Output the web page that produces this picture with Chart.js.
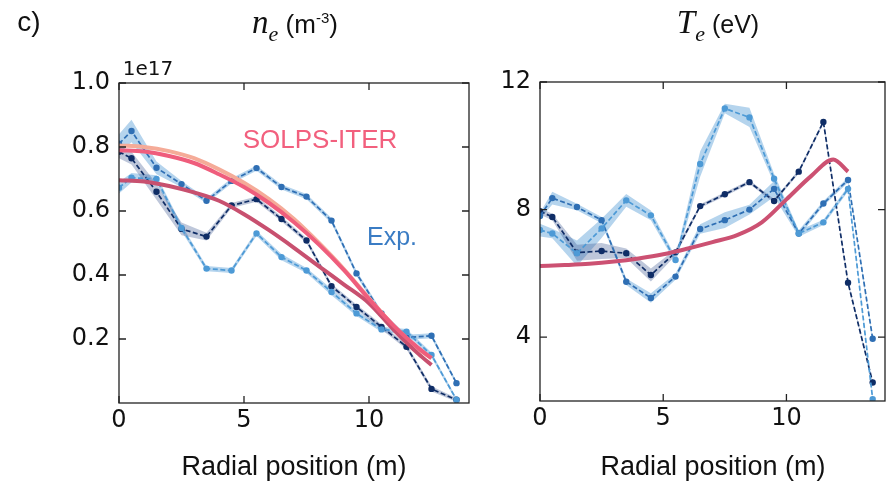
<!DOCTYPE html>
<html>
<head>
<meta charset="utf-8">
<script src="https://cdn.jsdelivr.net/npm/chart.js@4.4.0/dist/chart.umd.min.js"></script>
<style>
  html, body { margin: 0; padding: 0; }
  body { background: #fff; width: 889px; height: 483px; overflow: hidden; position: relative; font-family: 'Liberation Sans', Arial, sans-serif; color: #111; }
  .caja { position: absolute; top: 0; height: 483px; overflow: hidden; }
  .caja canvas { display: block; }
  .txt { position: absolute; white-space: nowrap; line-height: 1; transform: translateX(-50%); }
  .it { font-family: 'Liberation Serif', serif; font-style: italic; font-size: 33px; }
  .sub { font-family: 'Liberation Serif', serif; font-style: italic; font-size: 22px; position: relative; top: 8px; }
  .sup { font-size: 15px; position: relative; top: -10px; }
</style>
</head>
<body>
<div class="caja" style="left:0;width:480px"><canvas id="graficaNe"></canvas></div>
<div class="caja" style="left:480px;width:409px"><canvas id="graficaTe"></canvas></div>

<div class="txt" style="left:29px;top:8px;font-size:28px">c)</div>
<div class="txt" style="left:295px;top:6px;font-size:26px"><span class="it">n</span><span class="sub">e</span> (m<span class="sup">-3</span>)</div>
<div class="txt" style="left:718px;top:6px;font-size:25px"><span class="it">T</span><span class="sub">e</span> (eV)</div>
<div class="txt" style="left:148px;top:58px;font-size:20px;font-family:'DejaVu Sans'">1e17</div>
<div class="txt" style="left:320px;top:126px;font-size:26px;color:#f2607e">SOLPS-ITER</div>
<div class="txt" style="left:392px;top:224px;font-size:25px;color:#3a7cc4">Exp.</div>
<div class="txt" style="left:294px;bottom:3px;font-size:27px">Radial position (m)</div>
<div class="txt" style="left:713px;bottom:3px;font-size:27px">Radial position (m)</div>

<script>
// posiciones radiales de las medidas
const posExp = [0, 0.5, 1.5, 2.5, 3.5, 4.5, 5.5, 6.5, 7.5, 8.5, 9.5, 10.5, 11.5, 12.5, 13.5];

// densidad (x1e17 m^-3)
const neOscuro = [0.785, 0.765, 0.66, 0.544, 0.52, 0.617, 0.637, 0.575, 0.508, 0.365, 0.30, 0.238, 0.176, 0.044, 0.01];
const neMedio  = [0.81, 0.85, 0.735, 0.684, 0.632, 0.694, 0.734, 0.675, 0.645, 0.57, 0.405, 0.28, 0.205, 0.21, 0.062];
const neClaro  = [0.673, 0.704, 0.70, 0.547, 0.42, 0.414, 0.53, 0.456, 0.414, 0.347, 0.28, 0.23, 0.223, 0.15, 0.01];
const neBandaOscuro = [0.02, 0.02, 0.025, 0.02, 0.012, 0.008, 0.008, 0.008, 0.008, 0.008, 0.008, 0.008, 0.008, 0.008, 0.006];
const neBandaMedio  = [0.03, 0.035, 0.02, 0.01, 0.008, 0.008, 0.008, 0.008, 0.008, 0.008, 0.008, 0.008, 0.008, 0.008, 0.006];
const neBandaClaro  = [0.018, 0.015, 0.012, 0.01, 0.008, 0.008, 0.008, 0.01, 0.008, 0.01, 0.008, 0.008, 0.008, 0.008, 0.006];

// temperatura (eV)
const teOscuro = [7.95, 7.77, 6.65, 6.70, 6.63, 5.95, 6.66, 8.11, 8.48, 8.86, 8.27, 9.19, 10.75, 5.71, 2.58];
const teMedio  = [7.80, 8.36, 8.08, 7.67, 5.74, 5.23, 5.90, 7.39, 7.67, 8.00, 8.65, 7.25, 8.19, 8.93, 3.95];
const teClaro  = [7.36, 7.25, 6.63, 7.41, 8.29, 7.82, 6.42, 9.43, 11.17, 10.89, 8.97, 7.25, 7.60, 8.65, 2.06];
const teBandaOscuro = [0.1, 0.1, 0.25, 0.25, 0.15, 0.2, 0.1, 0.06, 0.06, 0.06, 0.06, 0.06, 0.06, 0.06, 0.05];
const teBandaMedio  = [0.1, 0.2, 0.1, 0.1, 0.1, 0.15, 0.1, 0.15, 0.25, 0.15, 0.25, 0.1, 0.08, 0.08, 0.05];
const teBandaClaro  = [0.2, 0.15, 0.4, 0.3, 0.2, 0.15, 0.1, 0.4, 0.15, 0.3, 0.15, 0.1, 0.08, 0.08, 0.05];

// SOLPS-ITER
const posSolps = [0, 1, 2, 3, 4, 5, 6, 7, 8, 9, 10, 11, 12, 12.5];
const neSolpsRosa    = [0.79, 0.786, 0.772, 0.75, 0.715, 0.675, 0.625, 0.565, 0.495, 0.415, 0.325, 0.24, 0.17, 0.14];
const neSolpsSalmon  = [0.805, 0.80, 0.787, 0.765, 0.73, 0.688, 0.637, 0.575, 0.50, 0.418, 0.327, 0.24, 0.168, 0.14];
const neSolpsGranate = [0.696, 0.692, 0.678, 0.658, 0.632, 0.59, 0.54, 0.485, 0.427, 0.37, 0.312, 0.228, 0.152, 0.119];
const posSolpsTe = [0, 1, 2, 3, 4, 5, 6, 7, 8, 9, 10, 11, 11.9, 12.5];
const teSolps = [6.23, 6.26, 6.30, 6.37, 6.47, 6.60, 6.78, 6.98, 7.20, 7.60, 8.32, 9.05, 9.57, 9.19];

// ticks
const ticksX = [0, 5, 10];
const ticksNe = [0.2, 0.4, 0.6, 0.8, 1.0];
const ticksTe = [4, 8, 12];

const cOscuro = '#0f2d66';
const cMedio = '#2f6fb4';
const cClaro = '#4d9ad6';

function puntos(xs, ys) {
  return xs.map((x, i) => ({ x: x, y: ys[i] }));
}

function banda(ys, hw, color) {
  return [
    { data: puntos(posExp, ys.map((v, i) => v + hw[i])), borderWidth: 0, pointRadius: 0, fill: false, order: 5 },
    { data: puntos(posExp, ys.map((v, i) => v - hw[i])), borderWidth: 0, pointRadius: 0, fill: '-1', backgroundColor: color, order: 5 }
  ];
}

function serieExp(ys, color) {
  return {
    data: puntos(posExp, ys),
    borderColor: color,
    backgroundColor: color,
    borderWidth: 1.7,
    borderDash: [5, 2.5],
    pointRadius: 3.2,
    pointBorderWidth: 0,
    pointBackgroundColor: color,
    order: 3
  };
}

function serieSolps(xs, ys, color, orden) {
  return {
    data: puntos(xs, ys),
    borderColor: color,
    borderWidth: 4,
    pointRadius: 0,
    cubicInterpolationMode: 'monotone',
    order: orden
  };
}

// marco y ticks hacia dentro
const marco = {
  id: 'marco',
  afterDraw(chart) {
    const ctx = chart.ctx;
    const a = chart.chartArea;
    const sx = chart.scales.x, sy = chart.scales.y;
    ctx.save();
    ctx.strokeStyle = '#222';
    ctx.lineWidth = 1.3;
    ctx.strokeRect(a.left, a.top, a.right - a.left, a.bottom - a.top);
    ctx.beginPath();
    sx.ticks.forEach(t => {
      const px = sx.getPixelForValue(t.value);
      ctx.moveTo(px, a.bottom); ctx.lineTo(px, a.bottom - 7);
      ctx.moveTo(px, a.top); ctx.lineTo(px, a.top + 7);
    });
    sy.ticks.forEach(t => {
      const py = sy.getPixelForValue(t.value);
      ctx.moveTo(a.left, py); ctx.lineTo(a.left + 7, py);
      ctx.moveTo(a.right, py); ctx.lineTo(a.right - 7, py);
    });
    ctx.stroke();
    ctx.restore();
  }
};

function opciones(ymin, ymax, ticksY, anchoY, altoX, pad, decimales) {
  return {
    responsive: true,
    maintainAspectRatio: false,
    animation: false,
    layout: { padding: pad },
    plugins: { legend: { display: false }, tooltip: { enabled: false } },
    scales: {
      x: {
        type: 'linear', min: 0, max: 14,
        grid: { display: false, drawTicks: false }, border: { display: false },
        afterBuildTicks: s => { s.ticks = ticksX.map(v => ({ value: v })); },
        afterFit: s => { s.height = altoX; },
        ticks: { padding: 3, color: '#111', font: { family: 'DejaVu Sans', size: 24 }, callback: v => String(v), maxRotation: 0 }
      },
      y: {
        type: 'linear', min: ymin, max: ymax,
        grid: { display: false, drawTicks: false }, border: { display: false },
        afterBuildTicks: s => { s.ticks = ticksY.map(v => ({ value: v })); },
        afterFit: s => { s.width = anchoY; },
        ticks: { padding: 9, color: '#111', font: { family: 'DejaVu Sans', size: 24 }, callback: v => v.toFixed(decimales) }
      }
    }
  };
}

new Chart(document.getElementById('graficaNe'), {
  type: 'line',
  data: {
    datasets: [
      ...banda(neOscuro, neBandaOscuro, 'rgba(70,95,150,0.35)'),
      ...banda(neMedio, neBandaMedio, 'rgba(90,160,215,0.45)'),
      ...banda(neClaro, neBandaClaro, 'rgba(90,160,215,0.45)'),
      serieExp(neClaro, cClaro),
      serieExp(neMedio, cMedio),
      serieExp(neOscuro, cOscuro),
      serieSolps(posSolps, neSolpsSalmon, '#f5ab98', 1.3),
      serieSolps(posSolps, neSolpsGranate, '#c8506f', 1.2),
      serieSolps(posSolps, neSolpsRosa, '#ef5d7c', 1.1)
    ]
  },
  options: opciones(0, 1.0, ticksNe, 119, 80, { left: 0, right: 11, top: 83, bottom: 0 }, 1),
  plugins: [marco]
});

new Chart(document.getElementById('graficaTe'), {
  type: 'line',
  data: {
    datasets: [
      ...banda(teOscuro, teBandaOscuro, 'rgba(70,95,150,0.35)'),
      ...banda(teMedio, teBandaMedio, 'rgba(90,160,215,0.45)'),
      ...banda(teClaro, teBandaClaro, 'rgba(90,160,215,0.45)'),
      serieExp(teClaro, cClaro),
      serieExp(teMedio, cMedio),
      serieExp(teOscuro, cOscuro),
      serieSolps(posSolpsTe, teSolps, '#cc5172', 1.1)
    ]
  },
  options: opciones(2, 12, ticksTe, 60, 82, { left: 0, right: 2, top: 82, bottom: 0 }, 0),
  plugins: [marco]
});
</script>
</body>
</html>
